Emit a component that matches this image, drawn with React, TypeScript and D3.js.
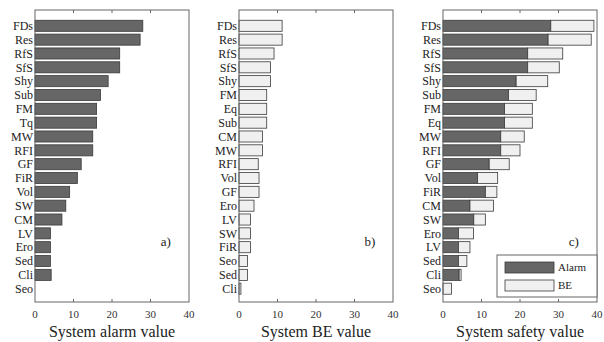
import { useEffect, useRef } from 'react';
import * as d3 from 'd3';

// panel a) alarm values
const alarmCats = ['FDs', 'Res', 'RfS', 'SfS', 'Shy', 'Sub', 'FM', 'Tq', 'MW', 'RFI', 'GF', 'FiR', 'Vol', 'SW', 'CM', 'LV', 'Ero', 'Sed', 'Cli', 'Seo'];
const alarmVals = [28, 27.3, 22, 22, 19, 17, 16, 16, 15, 15, 12, 11, 9, 8, 7, 4, 4, 4, 4.2, 0];

// panel b) BE values
const beCats = ['FDs', 'Res', 'RfS', 'SfS', 'Shy', 'FM', 'Eq', 'Sub', 'CM', 'MW', 'RFI', 'Vol', 'GF', 'Ero', 'LV', 'SW', 'FiR', 'Seo', 'Sed', 'Cli'];
const beVals = [11.2, 11.2, 9.1, 8.2, 8.2, 7.2, 7.2, 7.2, 6.1, 6.1, 5, 5.2, 5.2, 3.9, 3, 3, 3, 2.2, 2.2, 0.5];

// panel c) stacked safety = alarm + BE
const safeCats = ['FDs', 'Res', 'RfS', 'SfS', 'Shy', 'Sub', 'FM', 'Eq', 'MW', 'RFI', 'GF', 'Vol', 'FiR', 'CM', 'SW', 'Ero', 'LV', 'Sed', 'Cli', 'Seo'];
const safeAlarm = [28, 27.3, 22, 22, 19, 17, 16, 16, 15, 15, 12, 9, 11, 7, 8, 4, 4, 4, 4.2, 0];
const safeBE = [11.2, 11.2, 9.1, 8.2, 8.2, 7.2, 7.2, 7.2, 6.1, 5, 5.2, 5.2, 3, 6.1, 3, 3.9, 3, 2.2, 0.5, 2.2];

const xTicks = [0, 10, 20, 30, 40];
const legendLabels = ['Alarm', 'BE'];

const DARK = '#666';
const LIGHT = '#f0f0f0';
const EDGE = '#3a3a3a';
const FRAME = '#666';
const FONT = '"Times New Roman", "Liberation Serif", Times, serif';

export default function App() {
  const svgRef = useRef<SVGSVGElement>(null);

  useEffect(() => {
    if (!svgRef.current) return;
    const svg = d3.select(svgRef.current);
    svg.selectAll('*').remove();

    const top = 10;
    const bottom = 302;

    const panels = [
      { x0: 35, cats: alarmCats, tag: 'a)', title: 'System alarm value' },
      { x0: 239, cats: beCats, tag: 'b)', title: 'System BE value' },
      { x0: 443, cats: safeCats, tag: 'c)', title: 'System safety value' },
    ];

    panels.forEach((p, pi) => {
      const x = d3.scaleLinear().domain([0, 40]).range([p.x0, p.x0 + 154]);
      const y = d3.scaleBand<string>().domain(p.cats).range([17.5, 297]).padding(0.2);
      const g = svg.append('g');

      // bars
      if (pi === 0) {
        g.selectAll('rect.bar').data(alarmVals).enter().append('rect')
          .attr('x', x(0)).attr('y', (d, i) => y(p.cats[i])!)
          .attr('width', d => x(d) - x(0)).attr('height', y.bandwidth())
          .attr('fill', DARK).attr('stroke', EDGE).attr('stroke-width', 0.8)
          .attr('display', d => d > 0 ? null : 'none');
      } else if (pi === 1) {
        g.selectAll('rect.bar').data(beVals).enter().append('rect')
          .attr('x', x(0)).attr('y', (d, i) => y(p.cats[i])!)
          .attr('width', d => x(d) - x(0)).attr('height', y.bandwidth())
          .attr('fill', LIGHT).attr('stroke', EDGE).attr('stroke-width', 0.8);
      } else {
        g.selectAll('rect.al').data(safeAlarm).enter().append('rect')
          .attr('x', x(0)).attr('y', (d, i) => y(p.cats[i])!)
          .attr('width', d => x(d) - x(0)).attr('height', y.bandwidth())
          .attr('fill', DARK).attr('stroke', EDGE).attr('stroke-width', 0.8)
          .attr('display', d => d > 0 ? null : 'none');
        g.selectAll('rect.be').data(safeBE).enter().append('rect')
          .attr('x', (d, i) => x(safeAlarm[i])).attr('y', (d, i) => y(p.cats[i])!)
          .attr('width', d => x(d) - x(0)).attr('height', y.bandwidth())
          .attr('fill', LIGHT).attr('stroke', EDGE).attr('stroke-width', 0.8);
      }

      // frame
      g.append('rect')
        .attr('x', x(0)).attr('y', top)
        .attr('width', x(40) - x(0)).attr('height', bottom - top)
        .attr('fill', 'none').attr('stroke', FRAME).attr('stroke-width', 1);

      // inward ticks top and bottom
      xTicks.slice(1, -1).forEach(t => {
        g.append('line').attr('x1', x(t)).attr('x2', x(t)).attr('y1', top).attr('y2', top + 3)
          .attr('stroke', FRAME);
        g.append('line').attr('x1', x(t)).attr('x2', x(t)).attr('y1', bottom).attr('y2', bottom - 3)
          .attr('stroke', FRAME);
      });

      // tick labels
      g.selectAll('text.tick').data(xTicks).enter().append('text')
        .attr('x', d => x(d)).attr('y', 318)
        .attr('text-anchor', 'middle')
        .attr('font-family', FONT).attr('font-size', 11).attr('fill', '#333')
        .text(d => d);

      // axis title
      g.append('text')
        .attr('x', x(20)).attr('y', 337)
        .attr('text-anchor', 'middle')
        .attr('font-family', FONT).attr('font-size', 16).attr('fill', '#222')
        .text(p.title);

      // category labels
      g.selectAll('text.cat').data(p.cats).enter().append('text')
        .attr('x', x(0) - 2).attr('y', d => y(d)! + y.bandwidth() / 2)
        .attr('dy', '0.35em')
        .attr('text-anchor', 'end')
        .attr('font-family', FONT).attr('font-size', 12).attr('fill', '#222')
        .text(d => d);

      // panel tag
      g.append('text')
        .attr('x', x(34)).attr('y', 246)
        .attr('text-anchor', 'middle')
        .attr('font-family', FONT).attr('font-size', 13).attr('fill', '#222')
        .text(p.tag);

      // legend in panel c
      if (pi === 2) {
        const lg = g.append('g');
        lg.append('rect').attr('x', 497).attr('y', 255).attr('width', x(40) - 497).attr('height', 42)
          .attr('fill', '#fff').attr('stroke', FRAME).attr('stroke-width', 1);
        legendLabels.forEach((lab, i) => {
          const yy = 262 + i * 18;
          lg.append('rect').attr('x', 505).attr('y', yy).attr('width', 49).attr('height', 11)
            .attr('fill', i === 0 ? DARK : LIGHT).attr('stroke', EDGE).attr('stroke-width', 0.8);
          lg.append('text').attr('x', 558).attr('y', yy + 5.5).attr('dy', '0.35em')
            .attr('font-family', FONT).attr('font-size', 11).attr('fill', '#222')
            .text(lab);
        });
      }
    });
  }, []);

  return (
    <svg ref={svgRef} width={604} height={342}
      style={{ position: 'absolute', left: 0, top: 0, background: '#fff' }} />
  );
}
